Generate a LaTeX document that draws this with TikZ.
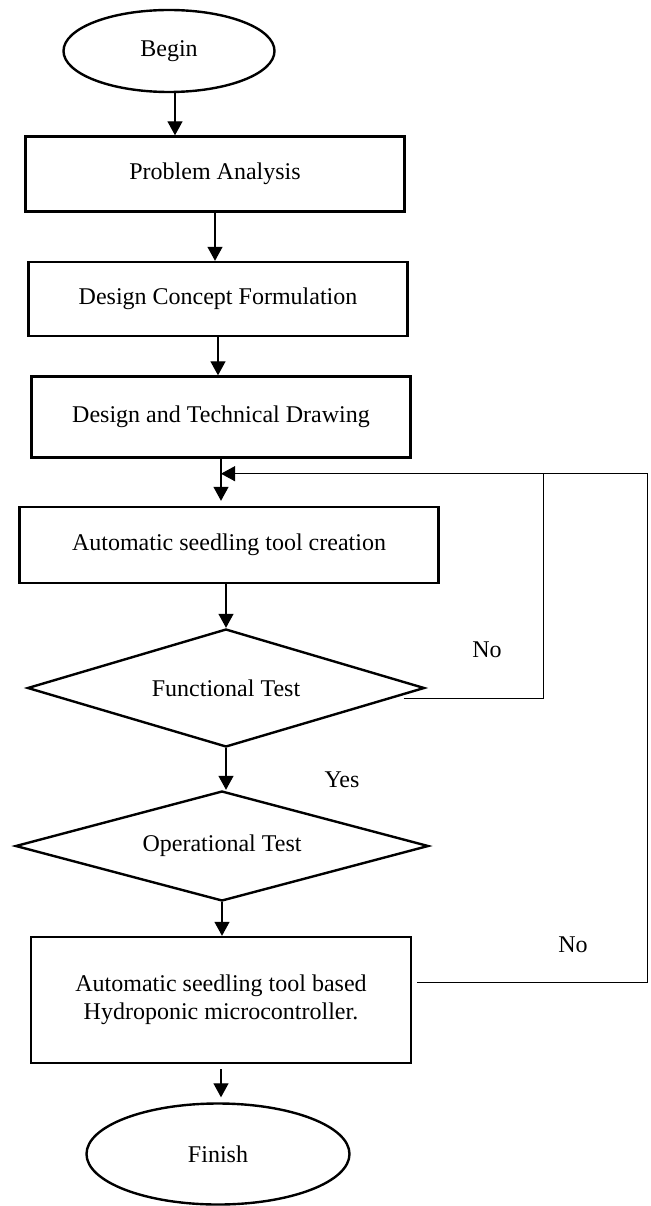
\documentclass[tikz,border=0pt]{standalone}
\usepackage{fontspec}
\setmainfont{Liberation Serif}
\usetikzlibrary{arrows.meta,positioning,shapes.geometric}

\begin{document}
\begin{tikzpicture}[x=1pt,y=1pt,on grid,
    font=\fontsize{24}{28}\selectfont,
    term/.style={ellipse, draw, line width=2.4pt},
    proc/.style={rectangle, draw, line width=2.4pt, minimum width=379pt, align=center},
    dec/.style={diamond, draw, line width=2.4pt, aspect=3.5, inner sep=0pt},
    arr/.style={-{Triangle[length=14pt,width=15pt]}, line width=1.3pt},
    loopline/.style={line width=1pt}]

\useasboundingbox (0,0) rectangle (650,-1206);

\node[term, minimum width=211pt, minimum height=82pt] (begin) at (169,-51) {Begin};
\node[proc, minimum height=75pt] (pa) [below right=123pt and 46pt of begin] {Problem Analysis};
\node[proc, minimum height=74pt] (dcf) [below right=125pt and 3pt of pa] {Design Concept Formulation};
\node[proc, minimum height=81pt] (dtd) [below right=118pt and 3pt of dcf] {Design and Technical Drawing};
\node[proc, minimum width=419pt, minimum height=76pt] (asc) [below right=128pt and 8pt of dtd] {Automatic seedling tool creation};
\node[dec, minimum width=397pt, minimum height=118pt] (ft) [below left=143pt and 3pt of asc] {Functional Test};
\node[dec, minimum width=413pt, minimum height=110pt] (ot) [below left=158pt and 4pt of ft] {Operational Test};
\node[proc, minimum width=380pt, minimum height=126pt] (ast) [below left=154pt and 1pt of ot] {Automatic seedling tool based\\Hydroponic microcontroller.};
\node[term, minimum width=263pt, minimum height=101pt] (fin) [below left=154pt and 3pt of ast] {Finish};

% labels
\node (nofun) at (487,-650) {No};
\node (yes) at (342,-780) {Yes};
\node (noop) at (573,-945) {No};

% return points
\coordinate (back) at ([yshift=-15pt]dtd.south);
\coordinate (rail1) at ([xshift=322pt]back);
\coordinate (rail2) at ([xshift=426pt]back);
\coordinate (ftout) at ([shift={(-22pt,-10pt)}]ft.east);
\coordinate (astout) at ([shift={(5pt,18pt)}]ast.east);

\path[arr]
    ([xshift=6pt]begin.south) edge ([xshift=6pt]begin.south |- pa.north)
    (pa.south)  edge (pa.south |- dcf.north)
    (dcf.south) edge (dcf.south |- dtd.north)
    (dtd.south) edge ([yshift=5pt]dtd.south |- asc.north)
    (asc.south -| ft.north) edge (ft.north)
    (ft.south)  edge (ft.south |- ot.north)
    (ot.south)  edge (ot.south |- ast.north)
    ([yshift=-5pt]ast.south) edge ([yshift=5pt]ast.south |- fin.north);

\draw[loopline] (ftout) -| (rail1);
\draw[loopline] (astout) -| (rail2) -- (rail1);
\draw[loopline, arr, line width=1pt] (rail1) -- (back);
\end{tikzpicture}
\end{document}
